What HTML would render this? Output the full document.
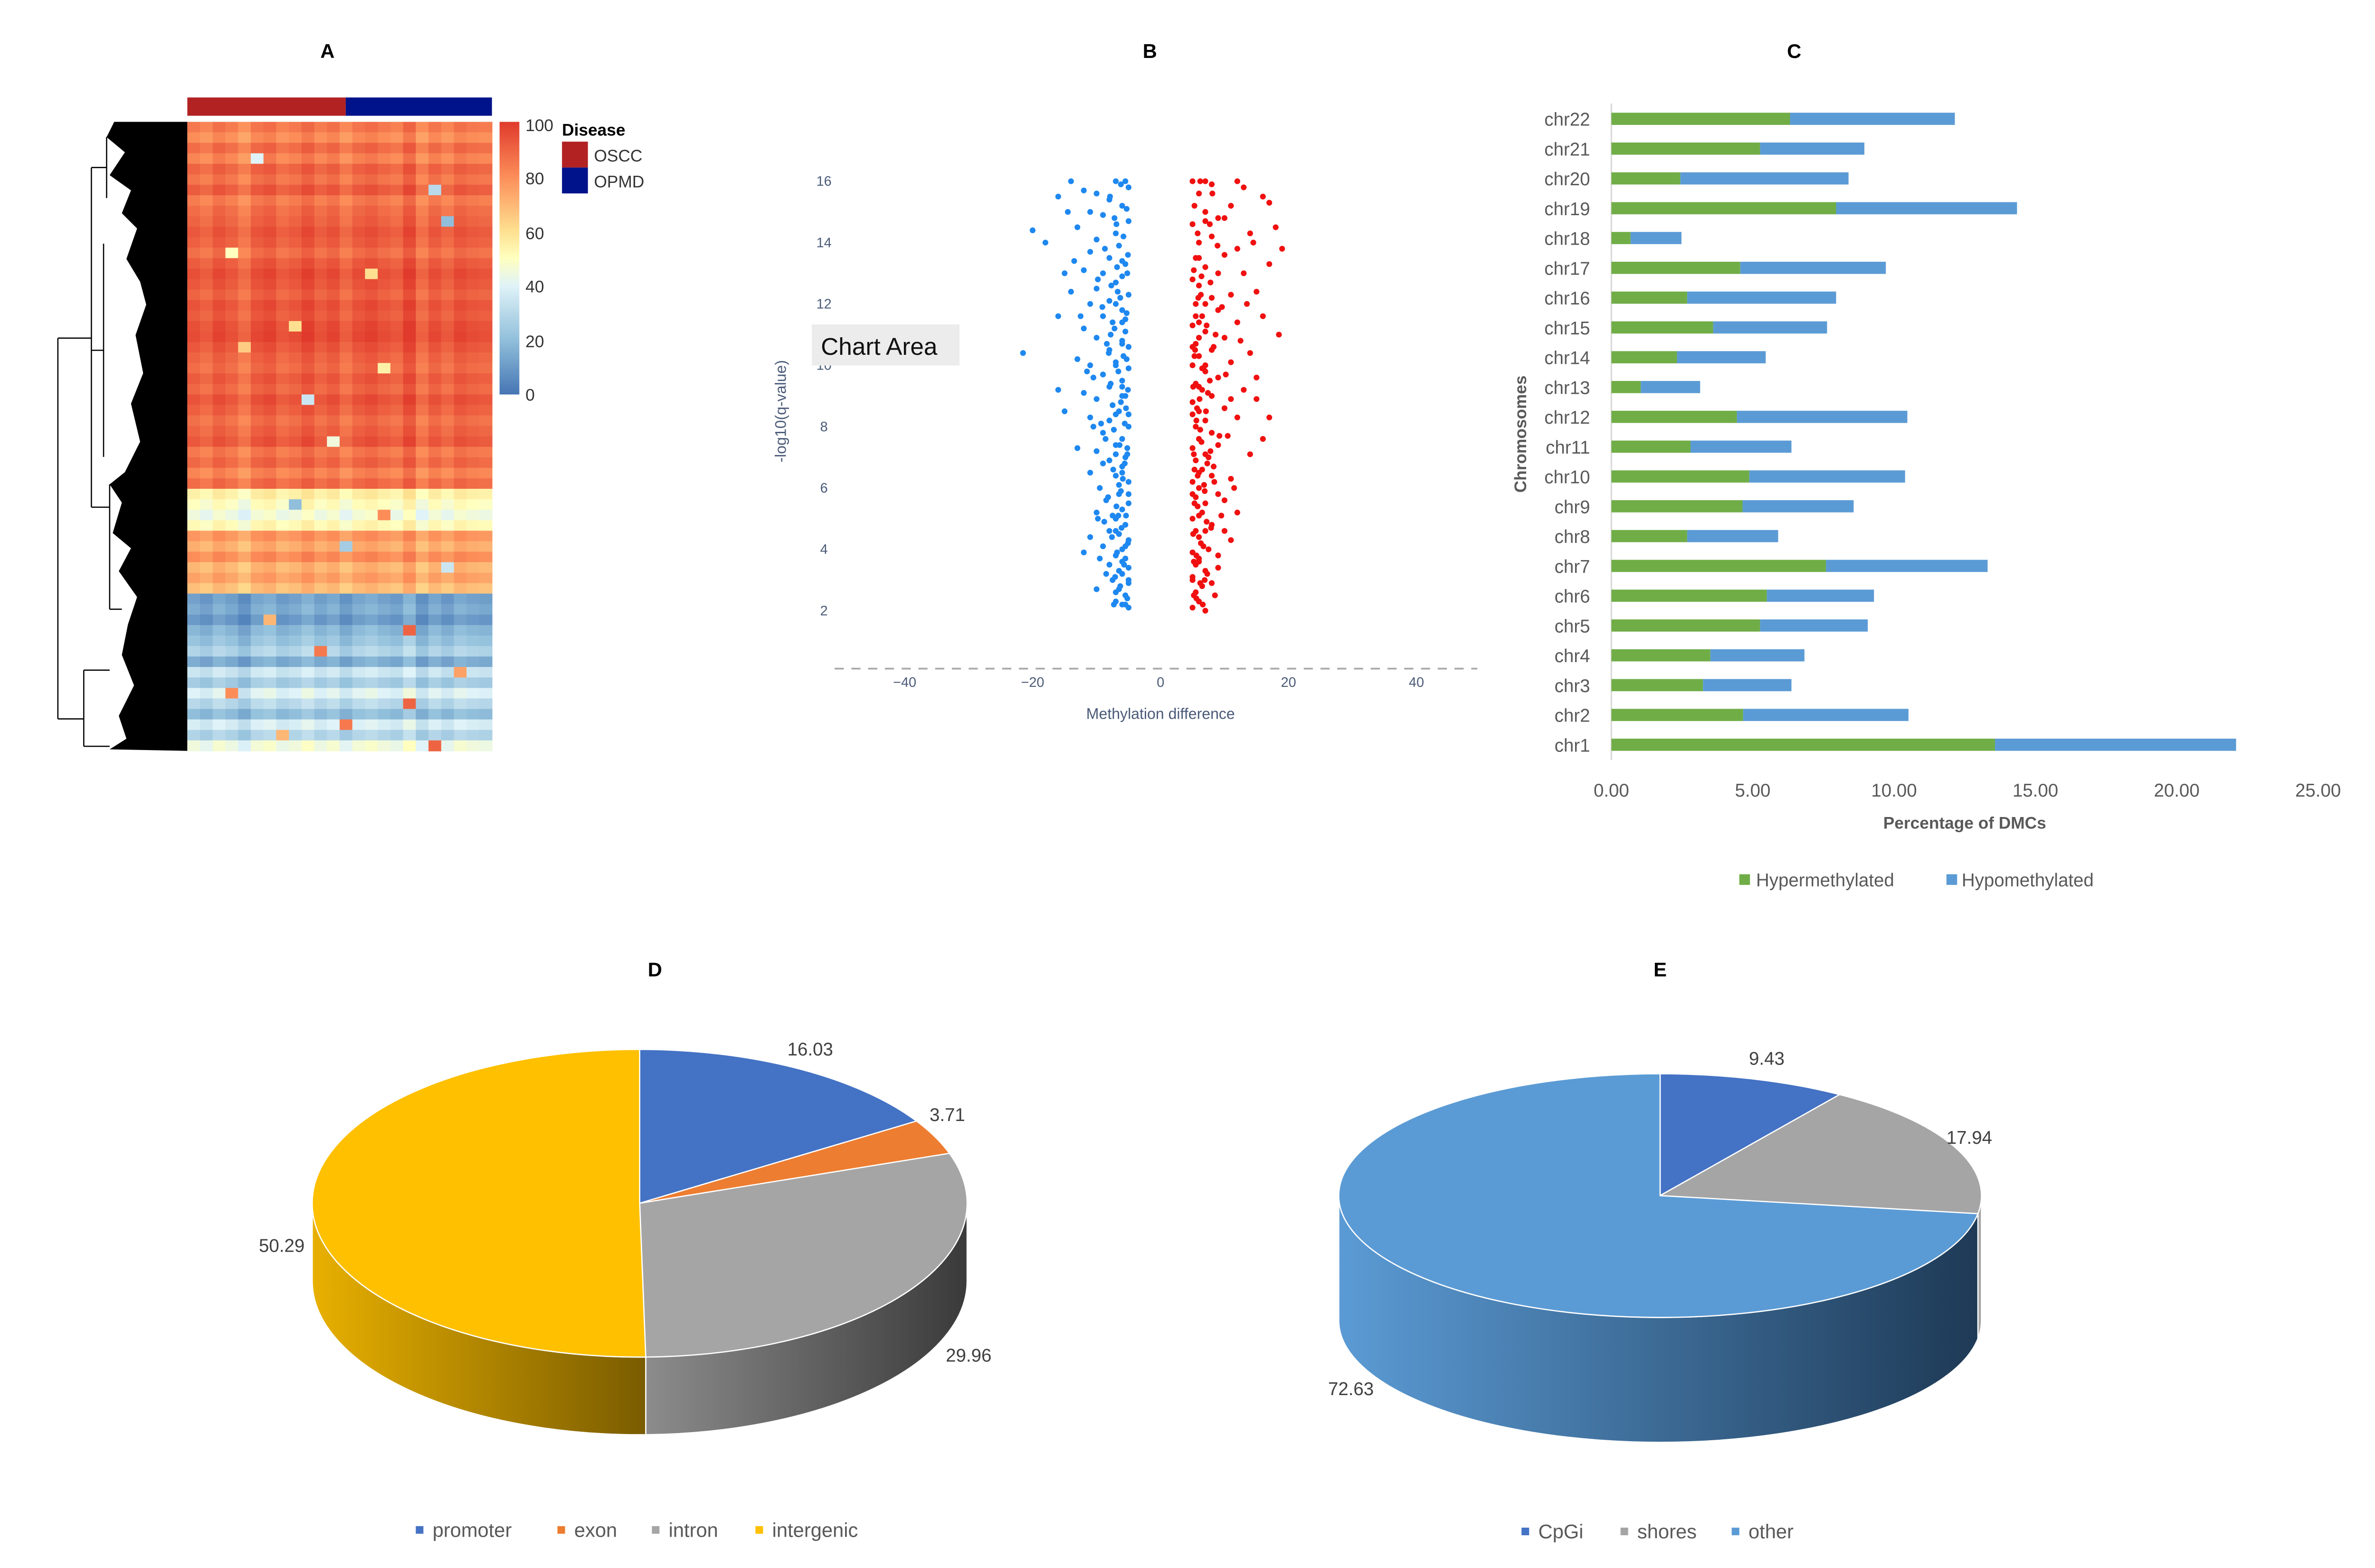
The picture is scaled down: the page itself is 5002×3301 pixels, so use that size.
<!DOCTYPE html>
<html><head><meta charset="utf-8"><style>
html,body{margin:0;padding:0;background:#fff;}
svg{display:block;font-family:"Liberation Sans",sans-serif;}
</style></head><body>
<svg id="fig" xmlns="http://www.w3.org/2000/svg" width="5002" height="3301" viewBox="0 0 1560 1029.5">
<defs>
<linearGradient id="gIntron" x1="0" x2="1" y1="0" y2="0"><stop offset="0" stop-color="#8c8c8c"/><stop offset="1" stop-color="#3a3a3a"/></linearGradient>
<linearGradient id="gInterg" x1="0" x2="1" y1="0" y2="0"><stop offset="0" stop-color="#e8b000"/><stop offset="1" stop-color="#7a5c00"/></linearGradient>
<linearGradient id="gOther" x1="0" x2="1" y1="0" y2="0"><stop offset="0" stop-color="#5b9bd5"/><stop offset="1" stop-color="#1e3a56"/></linearGradient>
<linearGradient id="gCbar" x1="0" x2="0" y1="1" y2="0"><stop offset="0" stop-color="#4575b4"/><stop offset="0.2" stop-color="#91bfdb"/><stop offset="0.4" stop-color="#e0f3f8"/><stop offset="0.5" stop-color="#ffffbf"/><stop offset="0.6" stop-color="#fee090"/><stop offset="0.8" stop-color="#fc8d59"/><stop offset="1" stop-color="#e03a2c"/></linearGradient>
</defs>
<g font-weight="bold" font-size="13" text-anchor="middle" fill="#000">
<text x="215" y="38">A</text>
<text x="755" y="38">B</text>
<text x="1178" y="38">C</text>
<text x="430" y="641">D</text>
<text x="1090" y="641">E</text>
</g>
<g id="heat">
<rect x="123" y="64" width="104" height="12" fill="#b22222"/>
<rect x="227" y="64" width="96" height="12" fill="#00138a"/>
<rect x="328" y="80" width="13" height="179" fill="url(#gCbar)"/>
<g font-size="11" fill="#333">
<text x="345" y="86">100</text><text x="345" y="121">80</text><text x="345" y="157">60</text><text x="345" y="192">40</text><text x="345" y="228">20</text><text x="345" y="263">0</text>
</g>
<text x="369" y="89" font-size="11" font-weight="bold">Disease</text>
<rect x="369" y="93" width="17" height="17" fill="#b22222"/>
<rect x="369" y="110" width="17" height="17" fill="#00138a"/>
<text x="390" y="106" font-size="11" fill="#333">OSCC</text>
<text x="390" y="123" font-size="11" fill="#333">OPMD</text>
<g id="dendro" stroke="#000" stroke-width="0.8" fill="none">
<polygon fill="#000" stroke="none" points="123,80 75,80 70,90 82,100 72,115 86,125 80,140 90,150 83,170 92,185 96,200 89,220 94,245 86,265 92,290 82,310 72,318 80,330 74,350 86,360 78,375 90,392 84,410 80,430 88,450 78,470 83,485 72,492 123,493"/>
<path d="M38,222 V472 M38,222 H60 M38,472 H55 M60,110 V333 M60,110 H70 M60,333 H72 M70,90 V130 M68,160 V300 M60,230 H68 M55,440 V490 M55,440 H72 M55,490 H72 M72,318 V400 M72,400 H80"/>
</g>
<g id="cells"></g>
</g>
<g id="volcano">
<line x1="548" x2="970" y1="439" y2="439" stroke="#aaa" stroke-width="1.2" stroke-dasharray="6,5"/>
<g id="vTicks" font-size="9" fill="#4a5a78"></g>
<text transform="translate(516,270) rotate(-90)" text-anchor="middle" font-size="10" fill="#4a5a78">-log10(q-value)</text>
<text x="762" y="472" text-anchor="middle" font-size="10" fill="#4a5a78">Methylation difference</text>
<g id="vPts"></g>
<rect x="533" y="213" width="97" height="27" fill="#ececec"/>
<text x="539" y="233" font-size="16" fill="#111">Chart Area</text>
</g>
<g id="bars">
<line x1="1058" x2="1058" y1="68" y2="499" stroke="#d9d9d9" stroke-width="1"/>
<g id="bTicks" font-size="12" fill="#595959"></g>
<text transform="translate(1002,285) rotate(-90)" text-anchor="middle" font-size="11" font-weight="bold" fill="#595959">Chromosomes</text>
<text x="1290" y="544" text-anchor="middle" font-size="11" font-weight="bold" fill="#595959">Percentage of DMCs</text>
<rect x="1142" y="574" width="7" height="7" fill="#70ad47"/>
<text x="1153" y="582" font-size="12" fill="#595959">Hypermethylated</text>
<rect x="1278" y="574" width="7" height="7" fill="#5b9bd5"/>
<text x="1288" y="582" font-size="12" fill="#595959">Hypomethylated</text>
</g>
<g id="pieD"></g>
<g id="pieE"></g>
<g font-size="13" fill="#595959">
<rect x="273" y="1002" width="5" height="5" fill="#4472c4"/><text x="284" y="1009">promoter</text>
<rect x="366" y="1002" width="5" height="5" fill="#ed7d31"/><text x="377" y="1009">exon</text>
<rect x="428" y="1002" width="5" height="5" fill="#a5a5a5"/><text x="439" y="1009">intron</text>
<rect x="496" y="1002" width="5" height="5" fill="#ffc000"/><text x="507" y="1009">intergenic</text>
<rect x="999" y="1003" width="5" height="5" fill="#4472c4"/><text x="1010" y="1010">CpGi</text>
<rect x="1064" y="1003" width="5" height="5" fill="#a5a5a5"/><text x="1075" y="1010">shores</text>
<rect x="1137" y="1003" width="5" height="5" fill="#5b9bd5"/><text x="1148" y="1010">other</text>
</g>
</svg>
<script>
// ---- heatmap data ----
const rowMeans = [85,80,88,82,90,86,92,84,88,90,93,91,87,92,95,93,90,94,92,95,96,93,90,88,92,89,94,91,87,90,93,85,89,82,88,55,50,45,52,78,72,80,70,75,68,12,15,10,18,22,28,15,35,25,40,30,20,38,28,45];
const colShift = [0,-3,2,-1,-6,1,3,-2,0,4,-1,2,-4,1,3,0,-2,5,-5,1,-3,2,0,-1];
const outliers = [[3,5,40],[6,19,30],[9,20,20],[12,3,50],[14,14,60],[19,8,60],[21,4,65],[23,15,55],[26,9,35],[30,11,45],[36,8,20],[37,15,80],[40,12,25],[42,20,35],[47,6,70],[48,17,90],[50,10,85],[52,21,75],[54,3,80],[55,17,90],[57,12,85],[58,7,70],[59,19,90]];
// ---- volcano data ----
const blueX = [-5,-6,-7,-5.5,-6.5,-5,-7.5,-6,-5,-8,-5.5,-7,-6,-9,-5,-6.5,-8,-5.5,-7,-10,-6,-5,-8.5,-6.5,-9.5,-5,-7,-11,-6,-8,-5.5,-10,-7,-13,-6,-9,-5,-8,-11,-6.5,-15,-7.5,-10,-5.5,-12,-8,-16,-6,-9,-5,-11,-7,-13,-21.5,-8,-6,-10,-5.5,-12,-7.5,-9,-16,-6,-11,-8,-5,-14,-10,-7,-6,-9,-12,-15,-5.5,-8,-11,-6.5,-18,-10,-20,-7,-13,-5,-9,-11,-6,-8,-16,-12,-5,-7,-14,-5.5,-10,-6.5,-7.5,-5.5,-6.5,-7,-5.5,-6,-5.2,-7.3,-5.8,-7.8,-5.3,-6.8,-5.6,-8.8,-9.5,-10,-12,-11,-6.2,-5.4,-6.7,-7.2,-5.1,-9.8,-8.4,-9.3,-10.5,
-5.2,-6.3,-7.1,-5.7,-6.8,-5.1,-7.6,-6.1,-5.4,-6.9,-8.2,-5.9,-7.4,-5.2,-6.4,-8.6,-5.6,-7.0,-6.2,-5.1,-7.8,-6.6,-5.3,-8.1,-6.0,-7.2,-5.5,-9.1,-6.3,-7.7,-5.2,-6.0,-8.7,-5.8,-6.9,-5.3,-7.9,-6.2,-5.0,-6.0,-7.0,-5.0,-6.0,-7.0,-5.0,-6.0,-7.0,-5.0,-6.0,-7.0,-9.0,-10.5,-11.5,-12.5,-13.5,-14.5,-8.5,-9.8,-7.3,-6.6];
const blueY = [2.1,2.2,2.3,2.5,2.7,2.9,3,3.2,3.4,3.5,3.7,3.8,4,4.1,4.3,4.5,4.6,4.8,5,5.2,5.3,5.5,5.6,5.8,6,6.2,6.4,6.5,6.7,6.9,7,7.2,7.4,7.3,7.6,7.8,8,8.2,8.3,8.5,8.5,8.7,8.9,9,9.1,9.3,9.2,9.5,9.7,9.9,10,10.1,10.2,10.4,10.5,10.7,10.9,11.1,11.2,11.4,11.6,11.6,11.8,12,12.1,12.3,12.4,12.5,12.7,12.9,13,13.1,13,13.3,13.5,13.7,13.9,14,14.1,14.4,14.3,14.5,14.7,14.9,15,15.2,15.4,15.5,15.7,15.8,16,16,16,15.6,6.1,5.1,4.1,3.3,2.6,2.2,9,7.3,7.9,10.3,11,11.7,13.2,6.8,4.9,3.7,2.7,3.9,4.4,5.9,8.6,12.4,14.8,13.6,12.8,10.7,8.1,9.6,
2.4,2.8,3.1,3.5,3.9,4.2,4.4,4.7,5.1,5.4,5.7,6.3,6.6,7.1,7.4,7.6,8.1,8.4,8.8,9.2,9.4,9.8,10.2,10.4,10.8,11.2,11.5,11.9,12.2,12.6,13.0,13.4,13.8,14.2,14.6,15.1,15.5,15.9,3.0,3.6,4.6,5.8,6.5,7.1,8.4,9.3,10.0,10.6,11.4,12.0,6.8,8.0,9.8,11.6,13.4,15.0,3.2,5.0,2.2,5.1];
const redX = [5,6,7,5.5,6.5,8,5,7,5.5,9,6,5,7.5,11,6,5.5,8,10,5,6.5,12,7,5.5,9,6,5,8,11,6.5,5.5,7.5,14,5,9,6,16,8,5.5,7,12,17,6,10,5,8,6.5,13,5.5,9,15,7,5,11,6,8,14,5.5,10,7,18.5,5,12,6.5,9,16,5.5,8,11,15,6,5,9,13,7,17,5.5,10,12,6,8,14,18,19,5,9,7,11,16,6,13,8,5,7,12,17,5.2,6.3,7.2,5.8,6.8,5.3,7.8,6.2,5.7,7.4,6.7,5.4,8.6,6.4,7.7,9.5,10.5,6.9,5.6,8.3,5.9,10,15,
5.2,6.2,7.3,5.6,6.7,5.1,7.9,6.0,5.3,6.9,8.4,5.8,7.3,5.2,6.4,9.2,5.6,7.1,6.1,5.1,7.7,6.5,5.3,8.3,6.0,7.2,5.5,9.6,6.3,7.8,5.2,6.0,8.9,5.8,7.0,5.3,8.1,6.2,5.0,6.0,7.0,5.0,6.0,7.0,5.0,6.0,7.0,5.0,6.0,7.0,10.0,11.0,12.5,13.5,14.5,11.5,9.0,8.5,6.6,10.2];
const redY = [2.1,2.3,2,2.6,2.8,2.9,3.1,3.3,3.5,3.4,3.7,3.9,4,4.3,4.4,4.6,4.8,4.6,5,5.2,5.2,5.5,5.7,5.8,6,6.2,6.4,6.3,6.6,6.9,7,7.1,7.3,7.4,7.6,7.6,7.8,8,8.2,8.3,8.3,8.5,8.6,8.8,9,9.2,9.2,9.4,9.6,9.6,9.8,10,10.1,10.3,10.5,10.4,10.7,10.9,11.1,11,11.3,11.4,11.6,11.8,11.6,12,12.2,12.3,12.4,12.6,12.8,13,13,13.2,13.3,13.5,13.6,13.8,14,14.2,14.3,14.5,13.8,14.6,14.8,15,15.2,15.5,15.6,15.8,15.9,16,16,16,15.3,3.6,4.2,4.9,5.4,6.1,6.6,7.2,7.9,8.6,9.1,9.9,10.5,11,12.9,14.6,5.1,7.7,3,2.4,6.7,12.2,14.8,8.9,
2.5,2.9,3.2,3.8,4.1,4.5,4.7,5.1,5.5,5.9,6.2,6.4,6.8,7.1,7.5,7.7,8.2,8.5,8.9,9.3,9.5,9.9,10.3,10.6,10.9,11.3,11.6,11.9,12.3,12.7,13.1,13.5,13.9,14.3,14.7,15.2,15.6,16.0,3.0,3.6,4.6,5.8,6.5,7.1,8.4,9.3,10.0,10.6,11.4,12.0,5.6,8.9,10.8,12.0,14.0,6.0,3.8,2.5,2.2,9.7];
const vXTicks = [-40,-20,0,20,40];
const vYTicks = [2,4,6,8,10,12,14,16];
// ---- bar chart data ----
const chroms = ["chr22","chr21","chr20","chr19","chr18","chr17","chr16","chr15","chr14","chr13","chr12","chr11","chr10","chr9","chr8","chr7","chr6","chr5","chr4","chr3","chr2","chr1"];
const hyper = [6.32,5.26,2.44,7.95,0.68,4.56,2.68,3.6,2.32,1.04,4.44,2.8,4.88,4.64,2.68,7.59,5.5,5.26,3.5,3.24,4.66,13.57];
const hypo = [5.83,3.69,5.95,6.4,1.8,5.15,5.27,4.03,3.14,2.1,6.03,3.57,5.51,3.93,3.22,5.72,3.79,3.81,3.33,3.13,5.85,8.53];
const bXTicks = ["0.00","5.00","10.00","15.00","20.00","25.00"];
// ---- pie data ----
const dLabels = ["promoter","exon","intron","intergenic"];
const dValues = [16.03,3.71,29.96,50.29];
const eLabels = ["CpGi","shores","other"];
const eValues = [9.43,17.94,72.63];

const NS = "http://www.w3.org/2000/svg";
function mk(tag, attrs, parent){const e=document.createElementNS(NS,tag);for(const k in attrs)e.setAttribute(k,attrs[k]);parent.appendChild(e);return e;}

// heatmap
const hx0=123,hx1=323,hy0=80,hy1=493;
const cw=(hx1-hx0)/colShift.length, ch=(hy1-hy0)/rowMeans.length;
const stops=[[0,[69,117,180]],[20,[145,191,219]],[40,[224,243,248]],[50,[255,255,191]],[60,[254,224,144]],[80,[252,141,89]],[100,[224,58,44]]];
function col(v){v=Math.max(0,Math.min(100,v));for(let i=1;i<stops.length;i++){if(v<=stops[i][0]){const a=stops[i-1],b=stops[i],t=(v-a[0])/(b[0]-a[0]);return "rgb("+a[1].map((c,k)=>Math.round(c+(b[1][k]-c)*t)).join(",")+")";}}return "rgb(224,58,44)";}
const cells=document.getElementById("cells");
const ov={};outliers.forEach(o=>ov[o[0]+"_"+o[1]]=o[2]);
rowMeans.forEach((m,i)=>{colShift.forEach((s,j)=>{const v=ov[i+"_"+j]!==undefined?ov[i+"_"+j]:m+s;
const r=mk("rect",{x:(hx0+j*cw).toFixed(2),y:(hy0+i*ch).toFixed(2),width:(cw+0.3).toFixed(2),height:(ch+0.3).toFixed(2),fill:col(v)},cells);

});});

// volcano
const vx=x=>762+x*4.2, vy=y=>119+(16-y)*20.14;
const vt=document.getElementById("vTicks");
vXTicks.forEach(t=>{const e=mk("text",{x:vx(t),y:451,"text-anchor":"middle"},vt);e.textContent=(t<0?"−":"")+Math.abs(t);

});
vYTicks.forEach(t=>{const e=mk("text",{x:541,y:vy(t)+3,"text-anchor":"middle"},vt);e.textContent=t;

});
const vp=document.getElementById("vPts");
blueX.forEach((x,i)=>{const c=mk("circle",{cx:vx(x),cy:vy(blueY[i]),r:1.9,fill:"#1e88f0"},vp);

});
redX.forEach((x,i)=>{const c=mk("circle",{cx:vx(x),cy:vy(redY[i]),r:1.9,fill:"#f01010"},vp);

});

// bars
const bx=v=>1058+v*18.56, by=i=>78+i*19.57;
const bt=document.getElementById("bTicks"), bg=document.getElementById("bars");
chroms.forEach((c,i)=>{const t=mk("text",{x:1044,y:by(i)+4.5,"text-anchor":"end"},bt);t.textContent=c;


const g=mk("rect",{x:bx(0),y:by(i)-4,width:bx(hyper[i])-bx(0),height:8,fill:"#70ad47"},bg);


const b=mk("rect",{x:bx(hyper[i]),y:by(i)-4,width:bx(hyper[i]+hypo[i])-bx(hyper[i]),height:8,fill:"#5b9bd5"},bg);

});
bXTicks.forEach(t=>{const e=mk("text",{x:bx(parseFloat(t)),y:523,"text-anchor":"middle"},bt);e.textContent=t;

});

// pies
function pie(gid,values,names,colors,sideFills,cx,cy,rx,ry,depth,labelPos){
const g=document.getElementById(gid);const tot=values.reduce((a,b)=>a+b,0);
const P=a=>{const r=a*Math.PI/180;return [cx+rx*Math.sin(r),cy-ry*Math.cos(r)];};
let a0=0;const sl=[];values.forEach((v,i)=>{const a1=a0+v/tot*360;sl.push([a0,a1]);a0=a1;});
sl.forEach(([s,e],i)=>{const lo=Math.max(s,90),hi=Math.min(e,270);if(hi>lo){const p=P(lo),q=P(hi);
const d=`M${p[0]},${p[1]} A${rx},${ry} 0 0 1 ${q[0]},${q[1]} L${q[0]},${q[1]+depth} A${rx},${ry} 0 0 0 ${p[0]},${p[1]+depth} Z`;
const sp=mk("path",{d:d,fill:sideFills[i],stroke:"#fff","stroke-width":0.8},g);

}});
sl.forEach(([s,e],i)=>{const p=P(s),q=P(e);const large=(e-s)>180?1:0;
const tp=mk("path",{d:`M${cx},${cy} L${p[0]},${p[1]} A${rx},${ry} 0 ${large} 1 ${q[0]},${q[1]} Z`,fill:colors[i],stroke:"#fff","stroke-width":0.8},g);


const lt=mk("text",{x:labelPos[i][0],y:labelPos[i][1],"font-size":12,fill:"#404040","text-anchor":"middle"},g);lt.textContent=values[i].toFixed(2);

});}
pie("pieD",dValues,dLabels,["#4472c4","#ed7d31","#a5a5a5","#ffc000"],["#4472c4","#ed7d31","url(#gIntron)","url(#gInterg)"],420,790,215,101,51,[[532,693],[622,736],[636,894],[185,822]]);
pie("pieE",eValues,eLabels,["#4472c4","#a5a5a5","#5b9bd5"],["#4472c4","#a5a5a5","url(#gOther)"],1090,785,211,80,82,[[1160,699],[1293,751],[887,916]]);
</script>
</body></html>
